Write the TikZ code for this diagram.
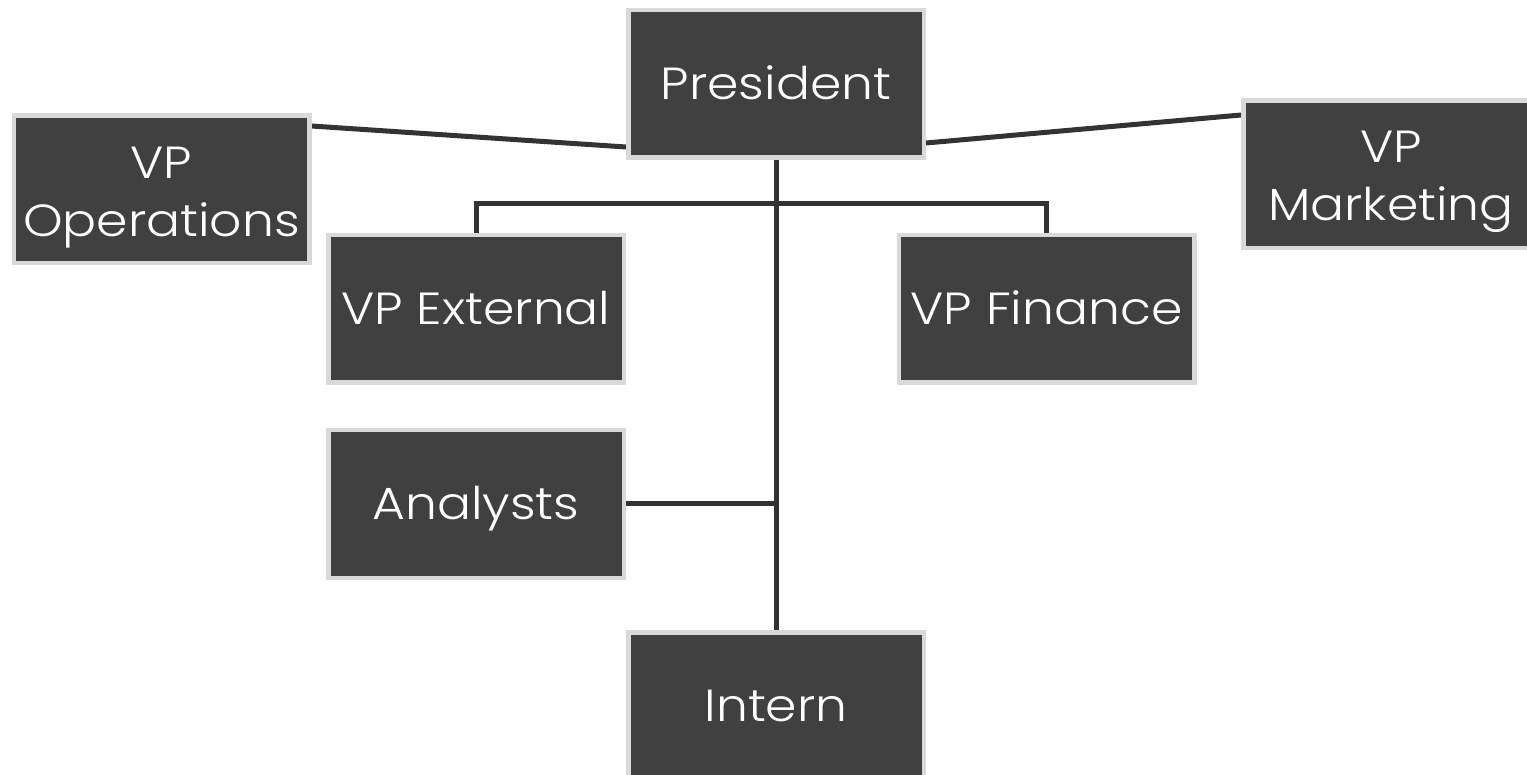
\documentclass[tikz,border=0pt]{standalone}
\usepackage{fontspec}
\setmainfont{Poppins Light}[FakeStretch=1.12]
\usetikzlibrary{backgrounds}
\definecolor{boxfill}{HTML}{404040}
\definecolor{boxborder}{HTML}{D9D9D9}
\definecolor{linkcol}{HTML}{333333}
\tikzset{
  boxtext/.style={inner sep=0pt, text=white, align=center,
    font=\fontsize{45}{58}\selectfont},
  orgbox/.style={boxtext, rectangle, fill=boxfill, draw=boxborder, line width=4.5pt,
    minimum width=295.5pt, minimum height=147.5pt},
  oneline/.style={orgbox, text height=31pt, text depth=0pt},
  link/.style={draw=linkcol, line width=5pt}
}
\begin{document}
\begin{tikzpicture}[x=1pt,y=-1pt]
\useasboundingbox (0,0) rectangle (1527,775);
\clip (0,0) rectangle (1527,775);
\node[oneline] (pres) at (776,84) {President};
\node[orgbox] (ops) at (161.5,189.5) {};
\node[boxtext] (opst) at ([yshift=-8pt]ops.center) {VP\\Operations};
\node[orgbox] (mkt) at (1391,174.5) {};
\node[boxtext] (mktt) at ([yshift=-7pt]mkt.center) {VP\\Marketing};
\node[oneline] (ext) at (476,309) {VP External};
\node[oneline] (fin) at (1046.5,309) {VP Finance};
\node[oneline] (ana) at (476,504) {Analysts};
\node[oneline] (int) at (776,706) {Intern};
\coordinate (bar) at (776,204);
\begin{scope}[on background layer]
\draw[link] (pres.south) -- (int.north);
\draw[link] (ext.north) -- (ext.north |- bar) -- (fin.north |- bar) -- (fin.north);
\draw[link] (ana.east) -- (ana.east -| pres.south);
\draw[link] ([yshift=63.5pt]ops.east) -- ([yshift=-63pt]pres.west);
\draw[link] ([yshift=-59pt]pres.east) -- ([yshift=59.5pt]mkt.west);
\end{scope}
\end{tikzpicture}
\end{document}
